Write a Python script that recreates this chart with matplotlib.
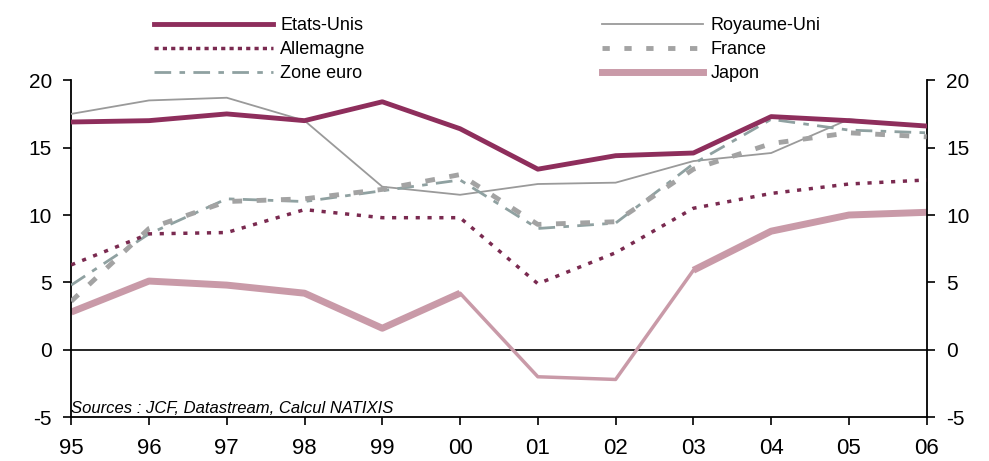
import numpy as np
from matplotlib import pyplot as plt
from matplotlib.lines import Line2D

plt.rcParams['font.family'] = ['Liberation Sans', 'DejaVu Sans']
plt.rcParams['axes.unicode_minus'] = False

years = ['95', '96', '97', '98', '99', '00', '01', '02', '03', '04', '05', '06']

etats_unis = [16.9, 17.0, 17.5, 17.0, 18.4, 16.4, 13.4, 14.4, 14.6, 17.3, 17.0, 16.6]
royaume_uni = [17.5, 18.5, 18.7, 17.0, 12.1, 11.5, 12.3, 12.4, 14.0, 14.6, 17.1, 16.6]
allemagne = [6.3, 8.6, 8.7, 10.4, 9.8, 9.8, 4.9, 7.2, 10.5, 11.6, 12.3, 12.6]
france = [3.6, 9.0, 11.0, 11.2, 11.9, 13.0, 9.3, 9.5, 13.4, 15.3, 16.1, 15.8]
zone_euro = [4.8, 8.6, 11.2, 11.0, 11.8, 12.6, 9.0, 9.4, 13.8, 17.1, 16.3, 16.1]
japon = [2.8, 5.1, 4.8, 4.2, 1.6, 4.2, -2.0, -2.2, 5.9, 8.8, 10.0, 10.2]

c_us = '#8E2E5C'
c_uk = '#9A9A9A'
c_de = '#7A2A50'
c_fr = '#A3A3A3'
c_ze = '#8FA1A1'
c_jp = '#C99AA8'

x = np.arange(len(years))

fig = plt.figure(figsize=(9.89, 4.61), dpi=100)
ax = fig.add_axes([0.072, 0.095, 0.865, 0.731])

ax.axhline(0, color='black', lw=1.2, zorder=1)

# japon: thinner line over the 00-03 dip
jp = np.array(japon, dtype=float)
jp_thick = jp.copy()
jp_thick[[6, 7]] = np.nan
ax.plot(x, jp, color=c_jp, lw=2.5, zorder=2)
ax.plot(x, jp_thick, color=c_jp, lw=5, zorder=2, solid_capstyle='butt')

ax.plot(x, royaume_uni, color=c_uk, lw=1.3, zorder=3)
ax.plot(x, zone_euro, color=c_ze, lw=2, dashes=(6, 3, 2, 3), zorder=3)
ax.plot(x, france, color=c_fr, lw=3.5, dashes=(2, 3), zorder=3)
ax.plot(x, allemagne, color=c_de, lw=2.5, dashes=(1.2, 2.2), zorder=4)
ax.plot(x, etats_unis, color=c_us, lw=3.5, zorder=5)

ax.set_xlim(0, len(years) - 1)
ax.set_ylim(-5, 20)
ax.set_xticks(x)
ax.set_xticklabels(years)
ax.set_yticks([-5, 0, 5, 10, 15, 20])
ax.tick_params(axis='x', direction='out', length=6, width=1.2, pad=9, labelsize=16)
ax.tick_params(axis='y', direction='out', length=6, width=1.2, pad=8, labelsize=15,
               right=True, labelright=True)
ax.spines['top'].set_visible(False)
for s in ['left', 'right', 'bottom']:
    ax.spines[s].set_linewidth(1.3)

ax.text(0.0, -4.35, 'Sources : JCF, Datastream, Calcul NATIXIS', fontsize=12,
        style='italic', ha='left', va='center')

col1 = [Line2D([], [], color=c_us, lw=3.5),
        Line2D([], [], color=c_de, lw=2.5, dashes=(1.2, 1.2)),
        Line2D([], [], color=c_ze, lw=2, dashes=(6, 3, 2, 3))]
col2 = [Line2D([], [], color=c_uk, lw=1.3),
        Line2D([], [], color=c_fr, lw=3.5, dashes=(1.5, 3)),
        Line2D([], [], color=c_jp, lw=5)]

fig.legend(col1, ['Etats-Unis', 'Allemagne', 'Zone euro'], loc='upper left',
           bbox_to_anchor=(0.143, 0.99), frameon=False, fontsize=13,
           handlelength=6.6, handletextpad=0.4, labelspacing=0.38,
           borderaxespad=0.3)
fig.legend(col2, ['Royaume-Uni', 'France', 'Japon'], loc='upper left',
           bbox_to_anchor=(0.596, 0.99), frameon=False, fontsize=13,
           handlelength=5.6, handletextpad=0.4, labelspacing=0.38,
           borderaxespad=0.3)

plt.savefig('out.png', dpi=100)
